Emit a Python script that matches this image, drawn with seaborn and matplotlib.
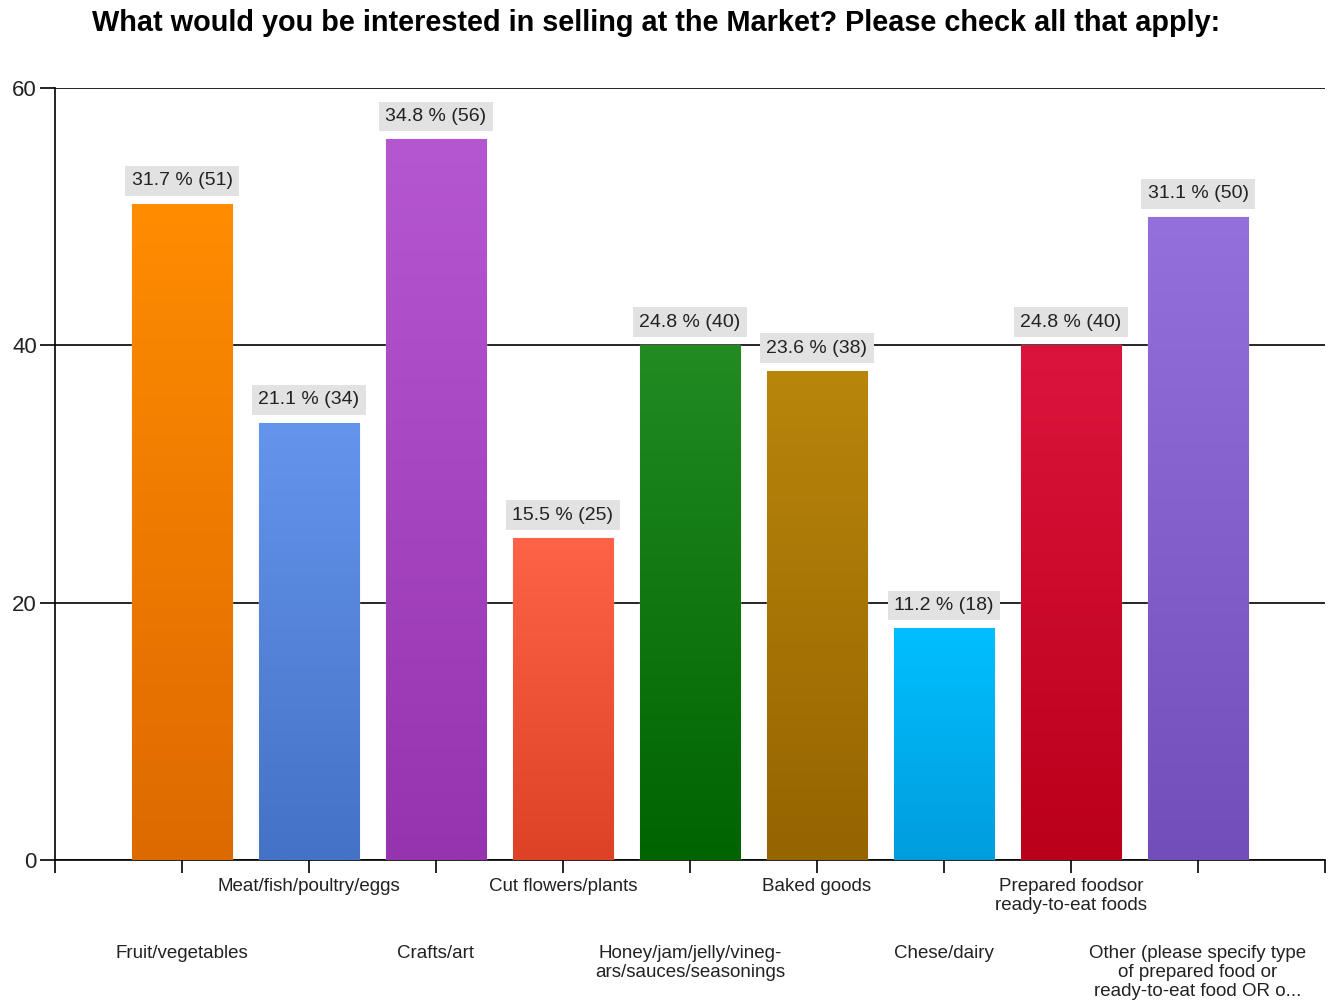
import numpy as np
import matplotlib
matplotlib.use("Agg")
import matplotlib.pyplot as plt
import matplotlib.colors as mcolors
import seaborn as sns

categories = ["Fruit/vegetables", "Meat/fish/poultry/eggs", "Crafts/art",
              "Cut flowers/plants", "Honey/jam/jelly/vineg-\nars/sauces/seasonings",
              "Baked goods", "Chese/dairy", "Prepared foodsor\nready-to-eat foods",
              "Other (please specify type\nof prepared food or\nready-to-eat food OR o..."]
counts = [51, 34, 56, 25, 40, 38, 18, 40, 50]
percents = [31.7, 21.1, 34.8, 15.5, 24.8, 23.6, 11.2, 24.8, 31.1]
top_colors = ["#FF8C00", "#6495ED", "#B657D2", "#FF6347", "#228B22",
              "#B8860B", "#00BFFF", "#DC143C", "#9370DB"]
bottom_colors = ["#DD6A00", "#4472C4", "#9633AE", "#DD4126", "#006400",
                 "#966400", "#009DDD", "#BA001A", "#714EB9"]
title = "What would you be interested in selling at the Market? Please check all that apply:"

sns.set_theme(style="white")
plt.rcParams['font.family'] = ['Liberation Sans', 'DejaVu Sans']

W, H = 1328, 1005
fig = plt.figure(figsize=(W / 100, H / 100), dpi=100)
ax = fig.add_axes([55 / W, 1 - 860 / H, 1270 / W, 772 / H])

sns.barplot(x=categories, y=counts, hue=categories, palette=top_colors,
            legend=False, width=0.79, saturation=1, ax=ax, zorder=3)

# gradient fill
for i, p in enumerate(ax.patches):
    x0, y0 = p.get_x(), p.get_y()
    w, h = p.get_width(), p.get_height()
    if h <= 0:
        continue
    cmap = mcolors.LinearSegmentedColormap.from_list(
        f"g{i}", [bottom_colors[i], top_colors[i]])
    grad = np.linspace(0, 1, 256).reshape(-1, 1)
    im = ax.imshow(grad, cmap=cmap, aspect='auto', origin='lower',
                   extent=(x0, x0 + w, y0, y0 + h), zorder=3.5)
    im.set_clip_path(p)
    p.set_edgecolor('#DDDDDD')
    p.set_linewidth(1.0)
ax.set_xlim(-1, 9)
ax.set_ylim(0, 60)

# value labels
for i, (c, pc) in enumerate(zip(counts, percents)):
    ax.annotate(f"{pc} % ({c})", xy=(i, c), xytext=(0, 16.5),
                textcoords='offset points', ha='center', va='center',
                fontsize=14, color='#222222', zorder=5,
                bbox=dict(boxstyle='square,pad=0.33', fc='#E2E2E2', ec='none'))

# grid
ax.set_yticks([0, 20, 40, 60])
ax.yaxis.grid(True, color='black', linewidth=1.2, zorder=0)
ax.set_axisbelow(True)
ax.xaxis.grid(False)

# x ticks
ax.set_xticks(list(range(-1, 10)))
ax.set_xticklabels([""] + categories + [""], fontsize=13.5, color='#222222',
                   linespacing=1.15)
ticks = ax.xaxis.get_major_ticks()
for j, t in enumerate(ticks):
    cat_idx = j - 1
    if 0 <= cat_idx < len(categories):
        t.set_pad(4 if cat_idx % 2 == 1 else 52)
ax.tick_params(axis='x', length=9, width=1.2, color='black', direction='out',
               bottom=True)
ax.tick_params(axis='y', length=11, width=1.2, color='black', direction='out',
               left=True, labelsize=16, pad=2, labelcolor='#222222')

for s in ['top', 'right']:
    ax.spines[s].set_visible(False)
for s in ['left', 'bottom']:
    ax.spines[s].set_color('black')
    ax.spines[s].set_linewidth(1.2)
ax.set_xlabel("")
ax.set_ylabel("")

fig.text(656 / W, 1 - 23 / H, title, ha='center', va='center',
         fontsize=20.8, fontweight='bold', color='black')

fig.savefig("out.png", dpi=100)
